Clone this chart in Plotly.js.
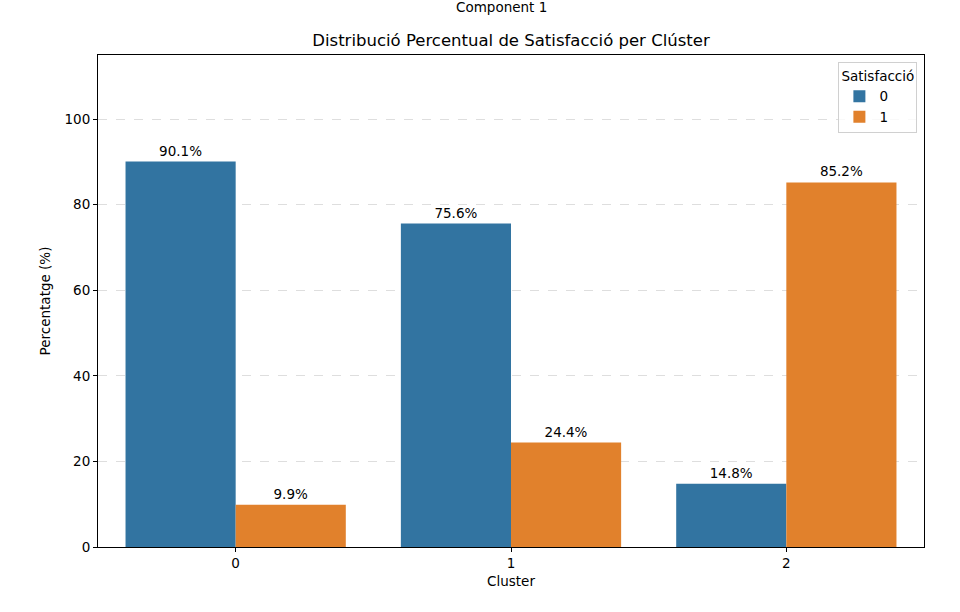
<!DOCTYPE html>
<html>
<head>
<meta charset="utf-8">
<script src="https://cdn.plot.ly/plotly-3.0.1.min.js"></script>
<style>body{margin:0;background:#fff}#chart{width:960px;height:612px}</style>
</head>
<body>
<div id="chart"></div>
<script>
var clusters = ['0', '1', '2'];
var satisf0 = [90.1, 75.6, 14.8];
var satisf1 = [9.9, 24.4, 85.2];
var yTicks = [0, 20, 40, 60, 80, 100];

var FONT = 'DejaVu Sans, sans-serif';

function barTrace(name, vals, color) {
    return {
        type: 'bar',
        name: name,
        x: clusters,
        y: vals,
        marker: {color: color, line: {width: 0}},
        text: vals.map(function(v) { return v.toFixed(1) + '%'; }),
        textposition: 'outside',
        textfont: {family: FONT, size: 13.5, color: '#000'},
        cliponaxis: false,
        hoverinfo: 'x+y'
    };
}

var data = [
    barTrace('0', satisf0, '#3274a1'),
    barTrace('1', satisf1, '#e1812c')
];

var layout = {
    width: 960,
    height: 612,
    margin: {l: 98, r: 36, t: 55, b: 65},
    paper_bgcolor: '#fff',
    plot_bgcolor: '#fff',
    font: {family: FONT, size: 13.5, color: '#000'},
    barmode: 'group',
    bargap: 0.2,
    bargroupgap: 0,
    title: {
        text: 'Distribució Percentual de Satisfacció per Clúster',
        font: {family: FONT, size: 16.5, color: '#000'},
        x: 0.5, xref: 'paper', xanchor: 'center',
        y: 1, yref: 'paper', yanchor: 'bottom',
        pad: {b: 9}
    },
    xaxis: {
        type: 'category',
        range: [-0.5, 2.5],
        title: {text: 'Cluster', font: {family: FONT, size: 13.5}, standoff: 6},
        showline: true, linecolor: '#000', linewidth: 1, mirror: true,
        ticks: 'outside', ticklen: 4, tickcolor: '#000',
        showgrid: false, zeroline: false
    },
    yaxis: {
        range: [0, 115],
        tickvals: yTicks,
        title: {text: 'Percentatge (%)', font: {family: FONT, size: 13.5}, standoff: 10},
        showline: true, linecolor: '#000', linewidth: 1, mirror: true,
        ticks: 'outside', ticklen: 4, tickcolor: '#000',
        showgrid: true, gridcolor: 'rgba(190,190,190,0.5)', griddash: 'dash', gridwidth: 1,
        zeroline: false
    },
    legend: {
        title: {text: 'Satisfacció', font: {family: FONT, size: 13.5}, side: 'top center'},
        x: 0.992, xanchor: 'right',
        y: 0.985, yanchor: 'top',
        bgcolor: 'rgba(255,255,255,0.8)',
        bordercolor: '#d0d0d0', borderwidth: 1,
        font: {family: FONT, size: 13.5}
    },
    annotations: [{
        text: 'Component 1',
        xref: 'paper', yref: 'paper',
        x: 0.488, y: 1.077,
        xanchor: 'center', yanchor: 'bottom',
        showarrow: false,
        font: {family: FONT, size: 13.5, color: '#000'}
    }]
};

Plotly.newPlot('chart', data, layout, {displayModeBar: false, staticPlot: true});
</script>
</body>
</html>
